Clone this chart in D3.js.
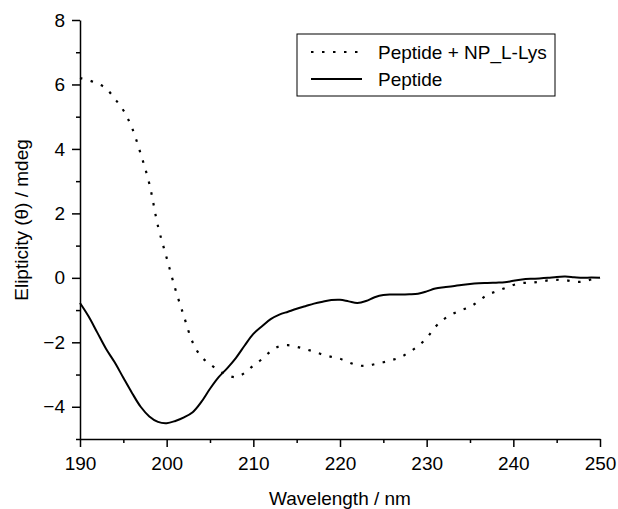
<!DOCTYPE html>
<html>
<head>
<meta charset="utf-8">
<script src="https://cdn.jsdelivr.net/npm/d3@7"></script>
<style>
  body { margin: 0; background: #fff; }
  text { font-family: "Liberation Sans", Arial, sans-serif; fill: #000; }
</style>
</head>
<body>
<div class="chart"></div>
<script>
// CD spectra

var wavelengths = [190, 191, 192, 193, 194, 195, 196, 197, 198, 199,
  200, 201, 202, 203, 204, 205, 206, 207, 208, 209,
  210, 211, 212, 213, 214, 215, 216, 217, 218, 219,
  220, 221, 222, 223, 224, 225, 226, 227, 228, 229,
  230, 231, 232, 233, 234, 235, 236, 237, 238, 239,
  240, 241, 242, 243, 244, 245, 246, 247, 248, 249, 250];

var peptideNP = [6.2, 6.13, 6.03, 5.88, 5.56, 5.2, 4.65, 3.85, 2.92, 1.6,
  0.62, -0.35, -1.2, -2.0, -2.45, -2.68, -2.87, -3.02, -3.08, -2.95,
  -2.72, -2.52, -2.28, -2.12, -2.09, -2.14, -2.21, -2.29, -2.38, -2.45,
  -2.51, -2.62, -2.71, -2.73, -2.68, -2.62, -2.55, -2.46, -2.3, -2.12,
  -1.87, -1.52, -1.28, -1.12, -1.0, -0.9, -0.72, -0.53, -0.42, -0.32,
  -0.22, -0.16, -0.15, -0.12, -0.08, -0.06, -0.07, -0.12, -0.12, -0.05, 0.0];

var peptide = [-0.78, -1.2, -1.7, -2.2, -2.62, -3.1, -3.57, -4.0, -4.3, -4.47,
  -4.51, -4.44, -4.33, -4.17, -3.85, -3.44, -3.08, -2.8, -2.48, -2.1,
  -1.74, -1.5, -1.28, -1.14, -1.05, -0.96, -0.88, -0.8, -0.74, -0.69,
  -0.68, -0.73, -0.78, -0.72, -0.6, -0.53, -0.52, -0.52, -0.51, -0.49,
  -0.42, -0.33, -0.29, -0.26, -0.22, -0.19, -0.17, -0.16, -0.15, -0.14,
  -0.09, -0.05, -0.03, -0.02, 0.0, 0.03, 0.04, 0.02, 0.0, 0.01, 0.0];

var seriesNames = ["Peptide + NP_L-Lys", "Peptide"];
var xTicks = [190, 200, 210, 220, 230, 240, 250];
var yTicks = [-4, -2, 0, 2, 4, 6, 8];

var svgWidth = 618;
var svgHeight = 509;

var margin = { top: 20, right: 18, bottom: 70, left: 80 };
var width = svgWidth - margin.left - margin.right;
var height = svgHeight - margin.top - margin.bottom;

var svg = d3.select(".chart")
  .append("svg")
  .attr("width", svgWidth)
  .attr("height", svgHeight);

var chartGroup = svg.append("g")
  .attr("transform", `translate(${margin.left}, ${margin.top})`);

var xLinearScale = d3.scaleLinear().domain([190, 250]).range([0, width]);
var yLinearScale = d3.scaleLinear().domain([-5, 8]).range([height, 0]);

// minor ticks first (short), then major ticks with labels
var xMinor = d3.range(195, 250, 10);
var yMinor = d3.range(-5, 8, 2);

chartGroup.append("g")
  .attr("transform", `translate(0, ${height})`)
  .call(d3.axisBottom(xLinearScale).tickValues(xMinor).tickSize(4).tickFormat(""))
  .call(g => g.select(".domain").remove())
  .selectAll("line").attr("stroke-width", 1.5);

chartGroup.append("g")
  .call(d3.axisLeft(yLinearScale).tickValues(yMinor).tickSize(4).tickFormat(""))
  .call(g => g.select(".domain").remove())
  .selectAll("line").attr("stroke-width", 1.5);

var xAxis = chartGroup.append("g")
  .attr("transform", `translate(0, ${height})`)
  .call(d3.axisBottom(xLinearScale).tickValues(xTicks).tickSize(8).tickSizeOuter(0).tickPadding(10));

var yAxis = chartGroup.append("g")
  .call(d3.axisLeft(yLinearScale).tickValues(yTicks).tickSize(8).tickSizeOuter(0).tickPadding(7));

[xAxis, yAxis].forEach(function (ax) {
  ax.select(".domain").attr("stroke-width", 1.5);
  ax.selectAll(".tick line").attr("stroke-width", 1.5);
  ax.selectAll(".tick text")
    .style("font-size", "19px")
    .style("font-family", "'Liberation Sans', Arial, sans-serif");
});

// axis titles
chartGroup.append("text")
  .attr("x", width / 2)
  .attr("y", height + 66)
  .attr("text-anchor", "middle")
  .style("font-size", "19px")
  .text("Wavelength / nm");

chartGroup.append("text")
  .attr("transform", "rotate(-90)")
  .attr("x", 0 - 200)
  .attr("y", 0 - 52)
  .attr("text-anchor", "middle")
  .style("font-size", "19px")
  .text("Elipticity (θ) / mdeg");

// curves
var npData = wavelengths.map((w, i) => ({ x: w, y: peptideNP[i] }));
var pepData = wavelengths.map((w, i) => ({ x: w, y: peptide[i] }));

var line = d3.line()
  .x(d => xLinearScale(d.x))
  .y(d => yLinearScale(d.y))
  .curve(d3.curveCatmullRom);

chartGroup.append("path")
  .datum(pepData)
  .attr("d", line)
  .attr("fill", "none")
  .attr("stroke", "#000")
  .attr("stroke-width", 2);

chartGroup.append("path")
  .datum(npData)
  .attr("d", line)
  .attr("fill", "none")
  .attr("stroke", "#000")
  .attr("stroke-width", 2.2)
  .attr("stroke-dasharray", "2.5,8.5");

// legend
var legend = svg.append("g");

legend.append("rect")
  .attr("x", 297)
  .attr("y", 34)
  .attr("width", 258)
  .attr("height", 62)
  .attr("fill", "#fff")
  .attr("stroke", "#000")
  .attr("stroke-width", 1);

var legendRows = [
  { name: seriesNames[0], dash: "2.5,8.5", y: 52 },
  { name: seriesNames[1], dash: null, y: 79 }
];

legendRows.forEach(function (r) {
  legend.append("line")
    .attr("x1", 311).attr("x2", 362)
    .attr("y1", r.y).attr("y2", r.y)
    .attr("stroke", "#000")
    .attr("stroke-width", 2)
    .attr("stroke-dasharray", r.dash);
  legend.append("text")
    .attr("x", 378)
    .attr("y", r.y + 7)
    .style("font-size", "19px")
    .text(r.name);
});
</script>
</body>
</html>
